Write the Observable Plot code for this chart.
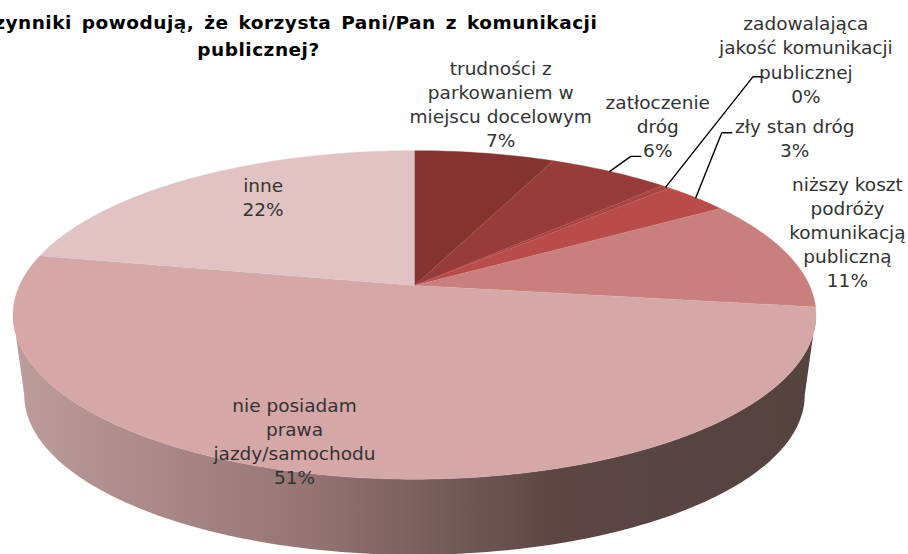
<!DOCTYPE html>
<html>
<head>
<meta charset="utf-8">
<style>html,body{margin:0;padding:0;background:#fff;overflow:hidden}svg{display:block}
.chart-title text{letter-spacing:.5px;word-spacing:3px}</style>
<script src="https://cdn.jsdelivr.net/npm/d3@7"></script>
<script src="https://cdn.jsdelivr.net/npm/@observablehq/plot@0.6"></script>
</head>
<body>
<script>
const categories = [
  "trudności z\nparkowaniem w\nmiejscu docelowym",
  "zatłoczenie\ndróg",
  "zadowalająca\njakość komunikacji\npublicznej",
  "zły stan dróg",
  "niższy koszt\npodróży\nkomunikacją\npubliczną",
  "nie posiadam\nprawa\njazdy/samochodu",
  "inne"
];
const shares = [6.7, 5.8, 0.4, 3.2, 11, 51, 21.9];
const percentLabels = ["7%", "6%", "0%", "3%", "11%", "51%", "22%"];
const sliceColors = ["#853331", "#983c3a", "#a84543", "#b94c4a", "#c97f7d", "#d6a7a7", "#e1c3c3"];
const titleLines = ["Jakie czynniki powodują, że korzysta Pani/Pan z komunikacji", "publicznej?"];
const sideStops = [[0, "#bd9c9c"], [0.35, "#977775"], [0.68, "#5b4644"], [1, "#554340"]];

// label offsets from each slice's rim point, leader elbows likewise
const labelOffsets = [[16, -50], [48, -46], [140, -128], [99, -60], [61, -22], [-42, -36], [69, 19]];
const leaders = {1: [[21, -15], [31, -15]], 2: [[87, -110], [97, -110]], 3: [[26, -65], [36, -65]]};

// perspective pie projection
const cx = 414, cy = 285, B = 395, A = 159, k = 0.179;
const depthScale = 0.972, depthShift = 81;
const rad = d => d * Math.PI / 50;              // percent to radians
function rim(p, s = 1, shift = 0) {
  const u = Math.sin(rad(p)), v = Math.cos(rad(p)), w = 1 + k * v;
  return {x: cx + s * B * u / w, y: cy + shift - s * A * v / w};
}

let running = 0;
const slices = shares.map((v, i) => {
  const start = running, end = running + v;
  running = end;
  return {i, start, end, mid: (start + end) / 2};
});

const facePoints = slices.flatMap(s => {
  const pts = [{x: cx, y: cy}];
  const n = Math.max(2, Math.ceil((s.end - s.start) * 4));
  for (let j = 0; j <= n; ++j) pts.push(rim(s.start + (s.end - s.start) * j / n));
  return pts.map(p => ({...p, slice: s.i, color: sliceColors[s.i]}));
});

// side wall between tangent points of the rim
const tanA = Math.acos(-k) * 50 / Math.PI, tanB = 100 - tanA;
const sideA = [], sideN = 160;
for (let j = 0; j <= sideN; ++j) sideA.push(rim(tanA + (tanB - tanA) * j / sideN));
for (let j = sideN; j >= 0; --j) sideA.push(rim(tanA + (tanB - tanA) * j / sideN, depthScale, depthShift));

const leaderPoints = Object.entries(leaders).flatMap(([i, off]) => {
  const a = rim(slices[i].mid);
  return [a, ...off.map(([dx, dy]) => ({x: a.x + dx, y: a.y + dy}))].map(p => ({...p, i}));
});

const defs = () => {
  const d = d3.create("svg:defs");
  const g = d.append("linearGradient").attr("id", "sideShade").attr("x1", 0).attr("x2", 1).attr("y1", 0).attr("y2", 0);
  sideStops.forEach(([o, c]) => g.append("stop").attr("offset", o).attr("stop-color", c));
  return d.node();
};

const labelFont = {fontSize: 18.5, fontFamily: "DejaVu Sans, sans-serif", fill: "#333", lineHeight: 1.3};

const chart = Plot.plot({
  width: 908, height: 554,
  margin: 0,
  x: {domain: [0, 908], range: [0, 908], axis: null},
  y: {domain: [0, 554], range: [0, 554], axis: null},
  color: {type: "identity"},
  style: {background: "#fff"},
  marks: [
    defs,
    Plot.line(sideA, {x: "x", y: "y", fill: "url(#sideShade)", stroke: "none"}),
    Plot.line(facePoints, {x: "x", y: "y", z: "slice", fill: "color", stroke: "color", strokeWidth: 0.4}),
    Plot.line(leaderPoints, {x: "x", y: "y", z: "i", stroke: "#000", strokeWidth: 1.4, fill: "none"}),
    ...slices.map(s => {
      const a = rim(s.mid);
      return Plot.text([s], {
        x: () => a.x, y: () => a.y,
        text: d => categories[d.i] + "\n" + percentLabels[d.i],
        dx: labelOffsets[s.i][0], dy: labelOffsets[s.i][1],
        textAnchor: "middle", ...labelFont
      });
    }),
    Plot.text(titleLines, {
      x: () => 258, y: (d, i) => 23 + i * 27,
      text: d => d, textAnchor: "middle", className: "chart-title",
      fontSize: 18.5, fontWeight: "bold", fontFamily: "DejaVu Sans, sans-serif", fill: "#000"
    })
  ]
});
document.body.appendChild(chart);
</script>
</body>
</html>
